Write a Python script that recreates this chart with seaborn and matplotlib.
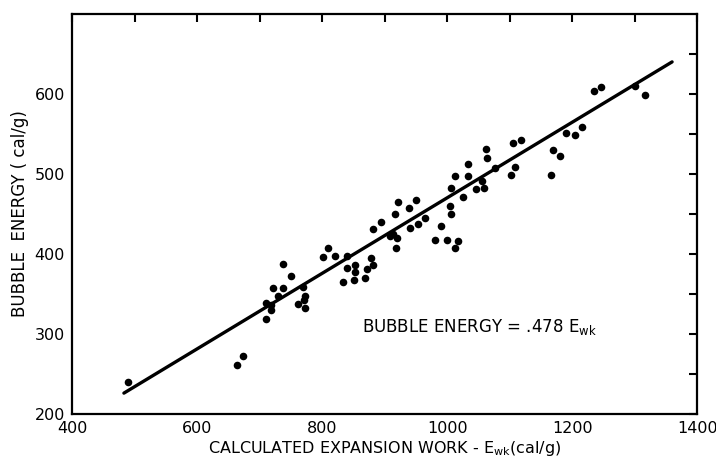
import numpy as np
import pandas as pd
import seaborn as sns
from matplotlib import pyplot as plt
from matplotlib.ticker import MultipleLocator

# calculated expansion work (cal/g) and measured bubble energy (cal/g)
expansion_work = [489, 664, 674, 710, 710, 718, 719, 721, 730, 737,
                  738, 750, 762, 770, 771, 772, 773, 801, 810, 821,
                  833, 840, 840, 851, 852, 853, 869, 872, 879, 881,
                  882, 894, 908, 913, 920, 918, 916, 922, 939, 940,
                  951, 953, 965, 980, 991, 1000, 1012, 1017, 1004, 1006,
                  1006, 1013, 1025, 1033, 1034, 1047, 1056, 1059, 1063, 1064,
                  1077, 1102, 1106, 1108, 1118, 1166, 1169, 1180, 1190, 1205,
                  1216, 1235, 1247, 1300, 1316]
bubble_energy = [240, 261, 273, 319, 339, 336, 330, 358, 347, 358,
                 387, 372, 338, 359, 342, 348, 332, 396, 407, 397,
                 365, 398, 382, 367, 386, 378, 370, 381, 395, 386,
                 431, 440, 423, 425, 420, 407, 450, 465, 458, 432,
                 468, 438, 445, 417, 435, 417, 408, 416, 460, 450,
                 483, 498, 471, 512, 498, 481, 491, 482, 531, 520,
                 508, 499, 539, 509, 543, 499, 530, 522, 551, 548,
                 559, 603, 608, 610, 598]

# fitted line  BUBBLE ENERGY = .478 E_wk
fit_x = [483, 1360]
fit_y = [226, 640]

df = pd.DataFrame({"work": expansion_work, "energy": bubble_energy})

sns.set_style("white")
plt.rcParams["font.family"] = ["DejaVu Sans"]

fig = plt.figure(figsize=(7.16, 4.63), dpi=100)
ax = fig.add_axes([0.1006, 0.106, 0.873, 0.864])

sns.scatterplot(data=df, x="work", y="energy", color="black", s=30,
                edgecolor="black", linewidth=0, ax=ax)
ax.plot(fit_x, fit_y, color="black", lw=2.4)

ax.set_xlim(400, 1400)
ax.set_ylim(200, 700)
ax.xaxis.set_major_locator(MultipleLocator(200))
ax.xaxis.set_minor_locator(MultipleLocator(100))
ax.set_yticks([200, 300, 400, 500, 600])
ax.set_yticks(np.arange(250, 700, 50), minor=True)
ax.tick_params(which="both", direction="in", length=6, width=1.5,
               top=True, right=True, labelsize=11.5, pad=5,
               colors="black")
for side in ax.spines.values():
    side.set_linewidth(1.6)
    side.set_color("black")

ax.set_xlabel(r"CALCULATED EXPANSION WORK - E$_{\rm wk}$(cal/g)",
              fontsize=11.5, labelpad=2, color="black")
ax.set_ylabel("BUBBLE  ENERGY ( cal/g)", fontsize=12, labelpad=4, color="black")
ax.text(864, 309, r"BUBBLE ENERGY = .478 E$_{\rm wk}$", fontsize=12,
        va="center", color="black")

fig.savefig("out.png", dpi=100)
